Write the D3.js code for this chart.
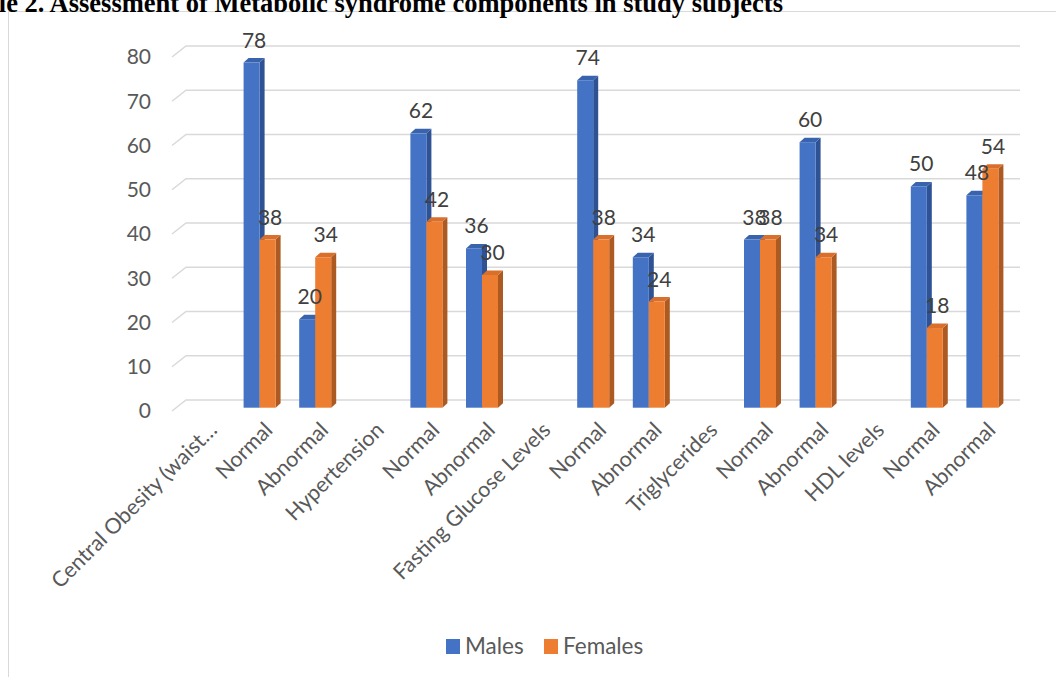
<!DOCTYPE html>
<html>
<head>
<meta charset="utf-8">
<script src="https://cdn.jsdelivr.net/npm/d3@7/dist/d3.min.js"></script>
<style>
  html, body { margin: 0; padding: 0; background: #fff; overflow: hidden; }
  svg { display: block; }
</style>
</head>
<body>
<svg id="chart" width="1056" height="677"></svg>
<script>
const categories = ["Central Obesity (waist…", "Normal", "Abnormal", "Hypertension", "Normal", "Abnormal",
  "Fasting Glucose Levels", "Normal", "Abnormal", "Triglycerides", "Normal", "Abnormal",
  "HDL levels", "Normal", "Abnormal"];
const seriesNames = ["Males", "Females"];
const males   = [null, 78, 20, null, 62, 36, null, 74, 34, null, 38, 60, null, 50, 48];
const females = [null, 38, 34, null, 42, 30, null, 38, 24, null, 38, 34, null, 18, 54];
const yTicks = [0, 10, 20, 30, 40, 50, 60, 70, 80];
const titleText = "Table 2. Assessment of Metabolic syndrome components in study subjects";

const colors = {
  Males:   { front: "#4472C4", side: "#2E5293", top: "#3A63AD" },
  Females: { front: "#ED7D31", side: "#AD5A22", top: "#D96F2A" }
};

const svg = d3.select("#chart");
const font = "Lato, 'Open Sans', sans-serif";

// Chart border
svg.append("rect")
  .attr("x", 8.5).attr("y", 11.5)
  .attr("width", 1100).attr("height", 700)
  .attr("fill", "none").attr("stroke", "#d9d9d9").attr("stroke-width", 1);

// Title (cut off on the left and top as in the reference)
svg.append("text")
  .attr("x", 783).attr("y", 12)
  .attr("text-anchor", "end")
  .attr("font-family", "'Liberation Serif', 'Times New Roman', serif")
  .attr("font-weight", "bold")
  .attr("font-size", 26.5)
  .attr("fill", "#000")
  .text(titleText);

// Geometry of the pseudo-3D plot
const depthX = -14, depthY = 11;        // back wall -> front edge of floor
const barShiftX = -9.8, barShiftY = 7.7; // back wall -> bar front plane
const barDX = 5, barDY = -4.5;          // bar depth

const x0 = d3.scaleBand().domain(d3.range(categories.length)).range([186, 1020]).paddingInner(0).paddingOuter(0);
const step = x0.bandwidth();
const groupW = 32;
const x1 = d3.scaleBand().domain(seriesNames).range([(step - groupW) / 2, (step + groupW) / 2]);
const y = d3.scaleLinear().domain([0, 80]).range([400, 46]);

// Gridlines
const grid = svg.append("g");
yTicks.forEach(v => {
  const yy = y(v);
  grid.append("path")
    .attr("d", `M${186 + depthX},${yy + depthY}L186,${yy}L1020,${yy}`)
    .attr("fill", "none").attr("stroke", "#d9d9d9").attr("stroke-width", 1.5);
});

// Y tick labels
svg.append("g").selectAll("text").data(yTicks).join("text")
  .attr("x", 151).attr("y", d => y(d) + depthY)
  .attr("dy", "0.35em")
  .attr("text-anchor", "end")
  .attr("font-family", font).attr("font-size", 21)
  .attr("fill", "#595959")
  .text(d => d);

// Bars
const data = [];
categories.forEach((c, i) => {
  seriesNames.forEach(s => {
    const v = (s === "Males" ? males : females)[i];
    if (v !== null) data.push({ i, s, v });
  });
});

const bars = svg.append("g");
data.forEach(d => {
  const xl = x0(d.i) + x1(d.s) + barShiftX;
  const w = x1.bandwidth();
  const yb = y(0) + barShiftY;
  const yt = y(d.v) + barShiftY;
  const c = colors[d.s];
  const g = bars.append("g");
  g.append("path")
    .attr("d", `M${xl + w},${yb}L${xl + w + barDX},${yb + barDY}L${xl + w + barDX},${yt + barDY}L${xl + w},${yt}Z`)
    .attr("fill", c.side);
  g.append("path")
    .attr("d", `M${xl},${yt}L${xl + w},${yt}L${xl + w + barDX},${yt + barDY}L${xl + barDX},${yt + barDY}Z`)
    .attr("fill", c.top);
  g.append("rect")
    .attr("x", xl).attr("y", yt)
    .attr("width", w).attr("height", yb - yt)
    .attr("fill", c.front);
});

// Value labels
svg.append("g").selectAll("text").data(data).join("text")
  .attr("x", d => x0(d.i) + x1(d.s) + barShiftX + x1.bandwidth() / 2 + barDX / 2)
  .attr("y", d => y(d.v) + barShiftY - 15)
  .attr("text-anchor", "middle")
  .attr("font-family", font).attr("font-size", 21)
  .attr("fill", "#404040")
  .text(d => d.v);

// X category labels (rotated)
svg.append("g").selectAll("text").data(categories).join("text")
  .attr("transform", (d, i) => {
    const cx = x0(i) + step / 2 + barShiftX + 9;
    return `translate(${cx},426) rotate(-45)`;
  })
  .attr("text-anchor", "end")
  .attr("dy", "0.35em")
  .attr("font-family", font).attr("font-size", 21.5)
  .attr("fill", "#595959")
  .text(d => d);

// Legend
const legend = svg.append("g");
const legendItems = [{ s: "Males", x: 446 }, { s: "Females", x: 544 }];
legendItems.forEach(it => {
  legend.append("rect")
    .attr("x", it.x).attr("y", 639).attr("width", 14).attr("height", 15)
    .attr("fill", colors[it.s].front);
  legend.append("text")
    .attr("x", it.x + 19).attr("y", 646).attr("dy", "0.35em")
    .attr("font-family", font).attr("font-size", 22.5)
    .attr("fill", "#595959")
    .text(it.s);
});
</script>
</body>
</html>
